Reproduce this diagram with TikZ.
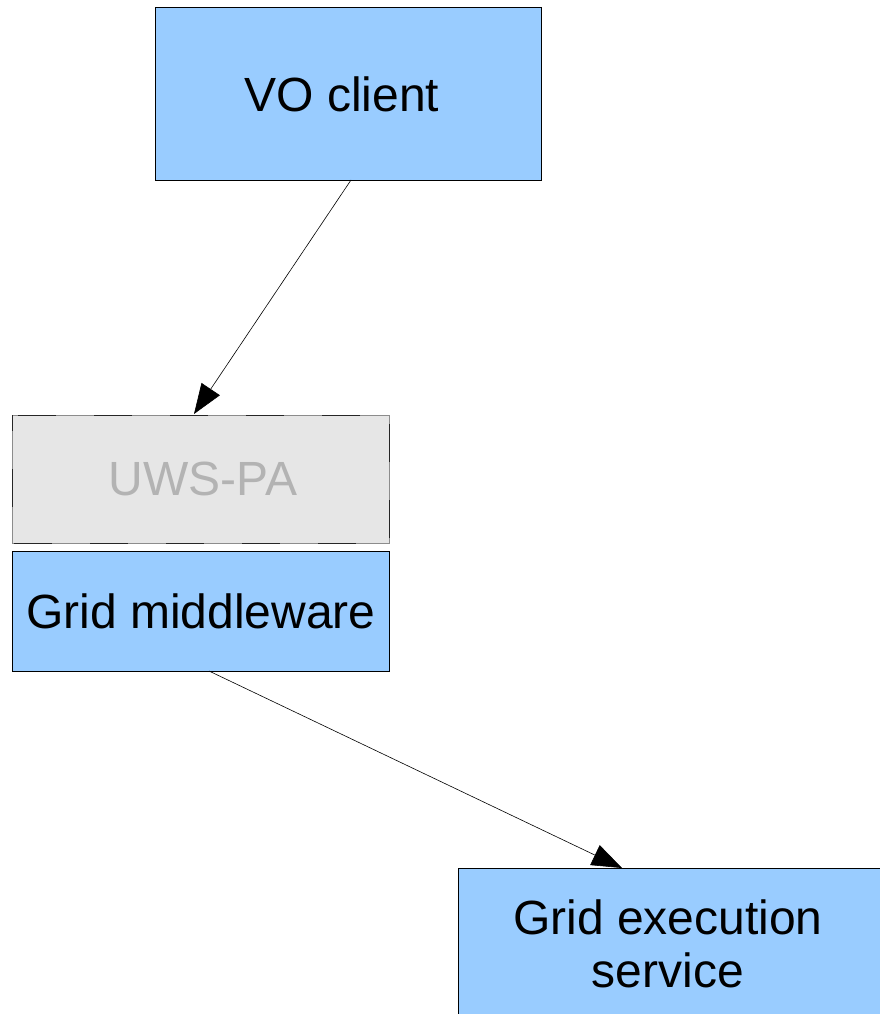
\documentclass[tikz,border=0pt]{standalone}
\usepackage{fontspec}
\setmainfont{Liberation Sans}
\usetikzlibrary{arrows.meta}
\definecolor{boxblue}{HTML}{99CCFF}
\definecolor{boxgray}{HTML}{E6E6E6}
\definecolor{txtgray}{HTML}{B3B3B3}
\begin{document}
\begin{tikzpicture}[x=1pt,y=-1pt,
  bluebox/.style={draw=black,line width=0.8pt,fill=boxblue},
  graybox/.style={draw=black!45,line width=0.8pt,fill=boxgray},
  grayedge/.style={draw=black!85,line width=0.8pt,dash pattern=on 38pt off 38pt,dash phase=22pt},
  lbl/.style={font=\fontsize{48}{53}\selectfont,align=center},
  conn/.style={-{Triangle[length=30pt,width=22pt]},line width=0.6pt}]
\useasboundingbox (0,0) rectangle (880,1014);
\clip (0,0) rectangle (880,1014);
\draw[bluebox] (155,7) rectangle (541,180);
\node[lbl] (vo) at (342,94) {VO client};
\draw[graybox] (12,415) rectangle (389,543);
\draw[grayedge] (12,415) rectangle (389,543);
\node[lbl,text=txtgray] (uws) at (203,479) {UWS-PA};
\draw[bluebox] (12,551) rectangle (389,671);
\node[lbl] (gm) at (201,611) {Grid middleware};
\draw[bluebox] (458,868) rectangle (885,1020);
\node[lbl] (ges) at (668,944) {Grid execution\\service};
\coordinate (a1s) at (351,180);
\coordinate (a1e) at (194,414);
\coordinate (a2s) at (209,671);
\coordinate (a2e) at (622,868);
\draw[conn] (a1s) -- (a1e);
\draw[conn] (a2s) -- (a2e);
\end{tikzpicture}
\end{document}
